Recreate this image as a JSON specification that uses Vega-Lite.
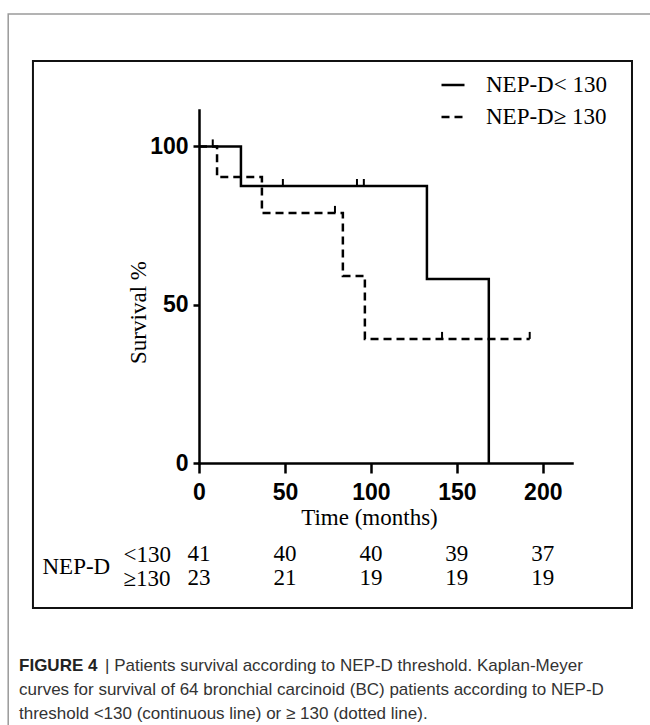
{
  "$schema": "https://vega.github.io/schema/vega-lite/v6.json",
  "width": 373,
  "height": 353,
  "autosize": {"type": "none"},
  "padding": {"left": 199, "top": 110, "right": 78, "bottom": 262},
  "background": "white",
  "config": {"view": {"stroke": null}},
  "datasets": {
    "km": [
      {"group": "NEP-D< 130", "t": 0, "s": 100},
      {"group": "NEP-D< 130", "t": 24.4, "s": 87.5},
      {"group": "NEP-D< 130", "t": 132.6, "s": 58.1},
      {"group": "NEP-D< 130", "t": 168.6, "s": 0},
      {"group": "NEP-D≥ 130", "t": 0, "s": 100},
      {"group": "NEP-D≥ 130", "t": 10.5, "s": 90.3},
      {"group": "NEP-D≥ 130", "t": 36.6, "s": 79.0},
      {"group": "NEP-D≥ 130", "t": 83.7, "s": 59.1},
      {"group": "NEP-D≥ 130", "t": 96.5, "s": 39.2},
      {"group": "NEP-D≥ 130", "t": 192.4, "s": 39.2}
    ],
    "censor": [
      {"group": "NEP-D≥ 130", "t": 8, "s": 100},
      {"group": "NEP-D< 130", "t": 48.8, "s": 87.5},
      {"group": "NEP-D≥ 130", "t": 79.1, "s": 79.0},
      {"group": "NEP-D< 130", "t": 91.9, "s": 87.5},
      {"group": "NEP-D< 130", "t": 95.9, "s": 87.5},
      {"group": "NEP-D≥ 130", "t": 141.4, "s": 39.2},
      {"group": "NEP-D≥ 130", "t": 192.4, "s": 39.2}
    ],
    "risk": [
      {"grp": "<130", "t": 0, "n": 41},
      {"grp": "<130", "t": 50, "n": 40},
      {"grp": "<130", "t": 100, "n": 40},
      {"grp": "<130", "t": 150, "n": 39},
      {"grp": "<130", "t": 200, "n": 37},
      {"grp": "≥130", "t": 0, "n": 23},
      {"grp": "≥130", "t": 50, "n": 21},
      {"grp": "≥130", "t": 100, "n": 19},
      {"grp": "≥130", "t": 150, "n": 19},
      {"grp": "≥130", "t": 200, "n": 19}
    ],
    "caption": [
      {"line": 1, "part": "a", "text": "FIGURE 4"},
      {"line": 1, "part": "b", "text": "| Patients survival according to NEP-D threshold. Kaplan-Meyer"},
      {"line": 2, "part": "c", "text": "curves for survival of 64 bronchial carcinoid (BC) patients according to NEP-D"},
      {"line": 3, "part": "c", "text": "threshold <130 (continuous line) or ≥ 130 (dotted line)."}
    ]
  },
  "layer": [
    {
      "layer": [
        {
          "data": {"values": [{}]},
          "mark": {"type": "rect", "filled": false, "stroke": "#9a9a9a", "strokeWidth": 1.5, "clip": false},
          "encoding": {
            "x": {"datum": -111, "type": "quantitative", "scale": {"domain": [0, 217], "nice": false, "zero": false}},
            "x2": {"datum": 400},
            "y": {"datum": 141.8, "type": "quantitative", "scale": {"domain": [0, 111.5], "nice": false, "zero": false}},
            "y2": {"datum": -200}
          }
        },
        {
          "data": {"values": [{}]},
          "mark": {"type": "rect", "filled": false, "stroke": "#111111", "strokeWidth": 2, "clip": false},
          "encoding": {
            "x": {"datum": -96.6, "type": "quantitative", "scale": {"domain": [0, 217], "nice": false, "zero": false}},
            "x2": {"datum": 251.9},
            "y": {"datum": 127.0, "type": "quantitative", "scale": {"domain": [0, 111.5], "nice": false, "zero": false}},
            "y2": {"datum": -45.8}
          }
        },
        {
          "data": {"name": "km"},
          "mark": {"type": "line", "interpolate": "step-after", "color": "black", "strokeWidth": 2.5, "clip": false},
          "encoding": {
            "x": {
              "field": "t", "type": "quantitative",
              "scale": {"domain": [0, 217], "nice": false, "zero": false},
              "axis": {
                "values": [0, 50, 100, 150, 200],
                "title": "Time (months)",
                "grid": false,
                "domainColor": "black", "domainWidth": 2.5, "domainCap": "square",
                "tickColor": "black", "tickWidth": 2.5, "tickSize": 10,
                "labelFont": "Liberation Sans Narrow, Arial Narrow, Liberation Sans, sans-serif",
                "labelFontWeight": "bold", "labelFontSize": 23, "labelColor": "black",
                "labelPadding": 8, "labelFlush": false, "labelOverlap": false,
                "titleFont": "Liberation Serif", "titleFontSize": 23, "titleFontWeight": "normal", "titleColor": "black",
                "titleX": 170, "titleY": 54, "titleBaseline": "middle", "titleAlign": "center"
              }
            },
            "y": {
              "field": "s", "type": "quantitative",
              "scale": {"domain": [0, 111.5], "nice": false, "zero": false},
              "axis": {
                "values": [0, 50, 100],
                "title": "Survival %",
                "grid": false,
                "domainColor": "black", "domainWidth": 2.5, "domainCap": "square",
                "tickColor": "black", "tickWidth": 2.5, "tickSize": 6,
                "labelFont": "Liberation Sans Narrow, Arial Narrow, Liberation Sans, sans-serif",
                "labelFontWeight": "bold", "labelFontSize": 23, "labelColor": "black",
                "labelPadding": 5, "labelFlush": false, "labelOverlap": false,
                "titleFont": "Liberation Serif", "titleFontSize": 23, "titleFontWeight": "normal", "titleColor": "black",
                "titleX": -61, "titleY": 202, "titleAngle": 270, "titleBaseline": "middle", "titleAlign": "center"
              }
            },
            "strokeDash": {
              "field": "group", "type": "nominal",
              "scale": {"domain": ["NEP-D< 130", "NEP-D≥ 130"], "range": [[1, 0], [8, 5]]},
              "legend": {
                "title": null, "orient": "none", "legendX": 241, "legendY": -38,
                "labelFont": "Liberation Serif", "labelFontSize": 23, "labelColor": "black", "labelLimit": 300,
                "symbolType": "stroke", "symbolSize": 529, "symbolStrokeWidth": 2.5, "symbolStrokeColor": "black",
                "labelOffset": 20, "rowPadding": 7, "padding": 0
              }
            }
          }
        },
        {
          "data": {"name": "censor"},
          "mark": {"type": "point", "shape": "M0,0V-1", "size": 196, "filled": false, "color": "black", "strokeWidth": 2, "opacity": 1, "clip": false},
          "encoding": {
            "x": {"field": "t", "type": "quantitative", "scale": {"domain": [0, 217], "nice": false, "zero": false}},
            "y": {"field": "s", "type": "quantitative", "scale": {"domain": [0, 111.5], "nice": false, "zero": false}}
          }
        }
      ]
    },
    {
      "data": {"name": "risk"},
      "mark": {"type": "text", "font": "Liberation Serif", "fontSize": 23, "color": "black", "align": "center", "baseline": "middle", "clip": false},
      "encoding": {
        "x": {"field": "t", "type": "quantitative", "scale": {"domain": [0, 217], "nice": false, "zero": false}},
        "y": {
          "field": "grp", "type": "ordinal",
          "scale": {"type": "point", "domain": ["<130", "≥130"], "range": [444, 468], "padding": 0},
          "axis": {
            "orient": "left", "offset": 76, "domain": false, "ticks": false, "tickSize": 0,
            "labelAlign": "left", "labelPadding": 0, "labelBaseline": "middle",
            "labelFont": "Liberation Serif", "labelFontSize": 23, "labelColor": "black",
            "title": "NEP-D", "titleAngle": 0, "titleFont": "Liberation Serif", "titleFontSize": 23,
            "titleFontWeight": "normal", "titleColor": "black",
            "titleX": -81, "titleY": 456, "titleAlign": "left", "titleBaseline": "middle"
          }
        },
        "text": {"field": "n", "type": "quantitative"}
      }
    },
    {
      "data": {"name": "caption"},
      "layer": [
        {
          "transform": [{"filter": "datum.part == 'a'"}],
          "mark": {"type": "text", "font": "Liberation Sans", "fontWeight": "bold", "fontSize": 17, "color": "#222222", "align": "left", "baseline": "middle", "clip": false},
          "encoding": {
            "x": {"datum": -104.7, "type": "quantitative", "scale": {"domain": [0, 217], "nice": false, "zero": false}},
            "y": {"field": "line", "type": "ordinal", "scale": {"type": "point", "domain": [1, 2, 3], "range": [556, 604], "padding": 0}, "axis": null},
            "text": {"field": "text"}
          }
        },
        {
          "transform": [{"filter": "datum.part == 'b'"}],
          "mark": {"type": "text", "font": "Liberation Sans", "fontSize": 17, "color": "#333333", "align": "left", "baseline": "middle", "dx": 86, "clip": false},
          "encoding": {
            "x": {"datum": -104.7, "type": "quantitative", "scale": {"domain": [0, 217], "nice": false, "zero": false}},
            "y": {"field": "line", "type": "ordinal", "scale": {"type": "point", "domain": [1, 2, 3], "range": [556, 604], "padding": 0}, "axis": null},
            "text": {"field": "text"}
          }
        },
        {
          "transform": [{"filter": "datum.part == 'c'"}],
          "mark": {"type": "text", "font": "Liberation Sans", "fontSize": 17, "color": "#333333", "align": "left", "baseline": "middle", "clip": false},
          "encoding": {
            "x": {"datum": -104.7, "type": "quantitative", "scale": {"domain": [0, 217], "nice": false, "zero": false}},
            "y": {"field": "line", "type": "ordinal", "scale": {"type": "point", "domain": [1, 2, 3], "range": [556, 604], "padding": 0}, "axis": null},
            "text": {"field": "text"}
          }
        }
      ]
    }
  ],
  "resolve": {"scale": {"y": "independent"}, "axis": {"y": "independent"}}
}
